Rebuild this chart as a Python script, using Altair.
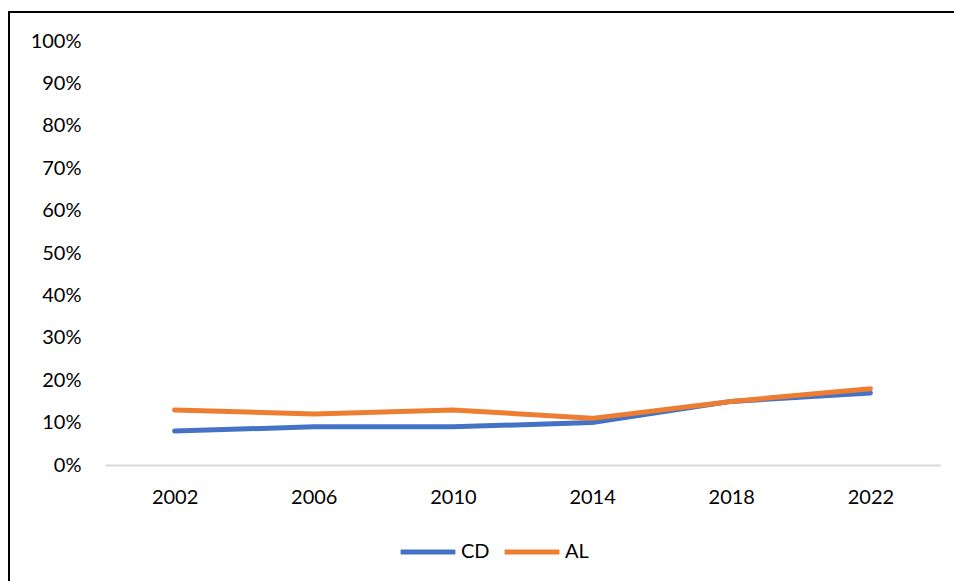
import altair as alt
import pandas as pd

years = ["2002", "2006", "2010", "2014", "2018", "2022"]
cd = [0.08, 0.09, 0.09, 0.10, 0.15, 0.17]
al = [0.13, 0.12, 0.13, 0.11, 0.15, 0.18]
series = ["CD", "AL"]
colors = ["#4472C4", "#ED7D31"]

rows = []
for name, vals in zip(series, [cd, al]):
    for y, v in zip(years, vals):
        rows.append({"year": y, "value": v, "series": name})
df = pd.DataFrame(rows)

FONT = "Lato"

lines = alt.Chart(df).mark_line(strokeWidth=5, strokeCap="round", strokeJoin="round").encode(
    x=alt.X("year:N", sort=years,
            scale=alt.Scale(type="point", padding=0.5),
            axis=alt.Axis(title=None, labelAngle=0, ticks=False, domain=True,
                          domainColor="#d9d9d9", domainWidth=2, grid=False,
                          labelPadding=22, labelFontSize=20, labelFont=FONT,
                          labelColor="#000000")),
    y=alt.Y("value:Q", scale=alt.Scale(domain=[0, 1], nice=False),
            axis=alt.Axis(title=None, format=".0%", values=[i / 10 for i in range(11)],
                          grid=False, domain=False, ticks=False, labelPadding=24,
                          labelFontSize=20, labelFont=FONT, labelColor="#000000")),
    color=alt.Color("series:N", sort=series,
                    scale=alt.Scale(domain=series, range=colors),
                    legend=alt.Legend(title=None, orient="none", direction="horizontal",
                                      legendX=293, legendY=481,
                                      symbolType="stroke", symbolSize=3000,
                                      symbolStrokeWidth=5, labelFontSize=20,
                                      labelFont=FONT, labelColor="#000000",
                                      labelOffset=3, columnPadding=4)),
)

border = alt.Data(values=[{}])
left_line = alt.Chart(border).mark_rule(color="#000000", strokeWidth=2).encode(
    x=alt.value(-96), y=alt.value(-29), y2=alt.value(560)
)
top_line = alt.Chart(border).mark_rule(color="#000000", strokeWidth=2).encode(
    y=alt.value(-29), x=alt.value(-97), x2=alt.value(870)
)

chart = alt.layer(left_line, top_line, lines).properties(
    width=835, height=424,
    autosize=alt.AutoSizeParams(type="none"),
    padding={"left": 105, "top": 41, "right": 14, "bottom": 116},
).configure(background="white").configure_view(strokeWidth=0, stroke="transparent")

chart.save("out.html", embed_options={"renderer": "svg", "actions": False})
